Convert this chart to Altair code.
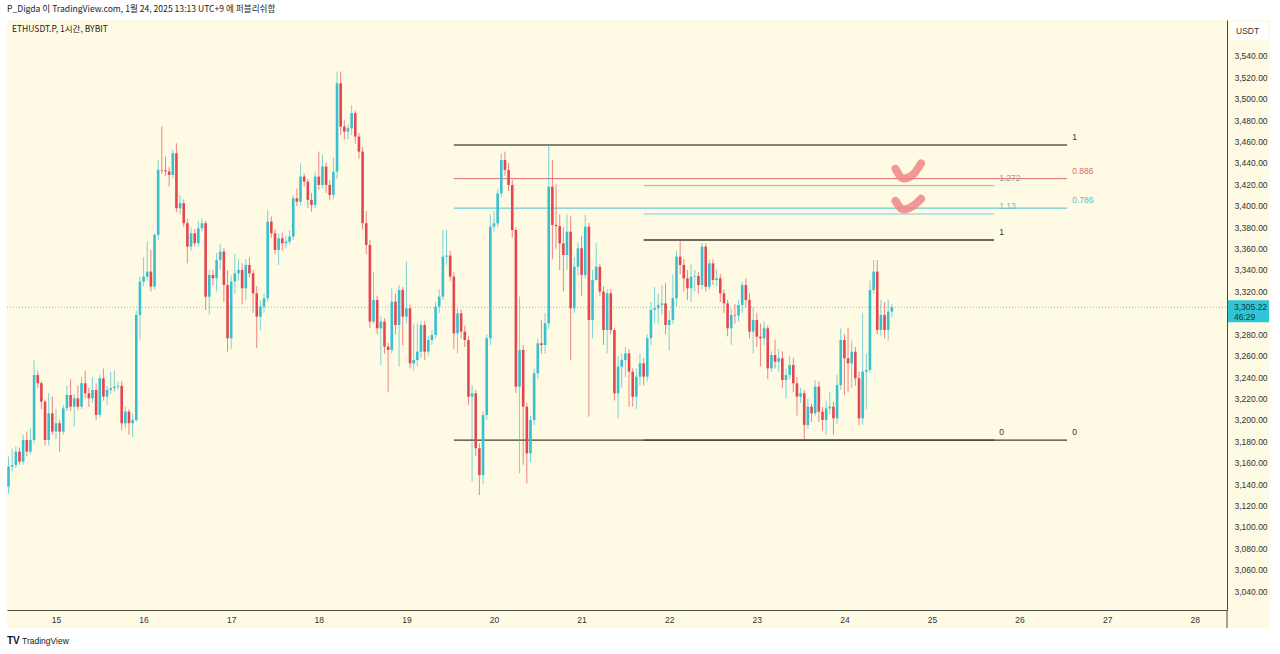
import altair as alt
import pandas as pd

# ---------------- data ----------------
FIRST_HOUR = -13          # first candle: 2025-01-14 11:00 (hours from 01-15 00:00, UTC+9)
FIRST_OPEN = 3137.6
CLOSE = [
    3156.3, 3157.8, 3170.3, 3160.9, 3181.2, 3170.3, 3181.2, 3241.9, 3234.2, 3217.0,
    3181.2, 3206.1, 3189.0, 3196.8, 3189.0, 3210.8, 3223.2, 3212.3, 3220.1, 3212.3,
    3234.2, 3224.8, 3220.1, 3227.9, 3204.6, 3238.8, 3221.7, 3227.9, 3229.5, 3231.0,
    3231.7, 3196.8, 3207.7, 3196.8, 3199.9, 3298.0, 3329.2, 3333.8, 3338.5, 3324.5,
    3372.8, 3433.5, 3433.0, 3432.0, 3428.8, 3449.1, 3397.7, 3402.4, 3383.7, 3361.9,
    3374.3, 3365.0, 3379.0, 3383.7, 3315.1, 3335.4, 3332.3, 3349.4, 3357.2, 3326.0,
    3276.2, 3329.2, 3336.9, 3340.1, 3322.9, 3344.7, 3336.9, 3318.2, 3296.4, 3305.8,
    3313.6, 3385.2, 3374.3, 3358.7, 3369.6, 3365.0, 3366.5, 3371.2, 3407.0, 3403.9,
    3427.3, 3422.6, 3405.5, 3400.8, 3427.3, 3419.5, 3436.6, 3419.5, 3410.1, 3431.9,
    3514.5, 3474.0, 3469.3, 3472.4, 3486.5, 3464.7, 3450.6, 3383.7, 3363.4, 3291.8,
    3312.0, 3285.5, 3291.8, 3268.4, 3265.3, 3310.4, 3288.6, 3321.4, 3296.4, 3304.2,
    3252.8, 3255.9, 3263.7, 3288.6, 3263.7, 3274.6, 3279.3, 3305.7, 3315.1, 3352.5,
    3353.5, 3333.8, 3280.8, 3299.5, 3282.4, 3274.6, 3221.6, 3224.8, 3173.4, 3148.4,
    3204.5, 3276.2, 3380.5, 3383.6, 3411.6, 3442.8, 3433.5, 3419.4, 3377.4, 3231.0,
    3265.3, 3212.3, 3168.7, 3199.8, 3243.4, 3271.5, 3269.9, 3290.2, 3417.9, 3382.1,
    3381.0, 3364.9, 3354.0, 3375.8, 3304.2, 3343.1, 3360.3, 3335.3, 3380.5, 3293.3,
    3330.7, 3343.1, 3319.8, 3283.9, 3318.2, 3283.9, 3224.8, 3249.7, 3255.9, 3262.1,
    3245.0, 3221.6, 3240.3, 3252.8, 3240.3, 3276.2, 3302.6, 3304.2, 3307.3, 3308.8,
    3288.6, 3293.3, 3313.5, 3352.5, 3344.7, 3332.2, 3322.9, 3333.8, 3334.3, 3326.0,
    3361.8, 3324.4, 3346.2, 3330.7, 3332.2, 3318.2, 3308.8, 3285.5, 3298.0, 3297.5,
    3307.3, 3326.0, 3312.0, 3282.4, 3293.3, 3277.7, 3276.2, 3285.5, 3248.1, 3260.6,
    3254.3, 3257.5, 3237.2, 3241.9, 3251.2, 3234.1, 3221.6, 3224.8, 3195.2, 3212.3,
    3206.1, 3231.0, 3207.6, 3199.8, 3210.7, 3212.3, 3201.4, 3232.5, 3274.6, 3257.5,
    3252.8, 3263.7, 3238.8, 3201.4, 3245.0, 3246.6, 3321.3, 3338.5, 3284.0, 3298.0,
    3283.9, 3301.1, 3305.22,
]
HIGH = [
    3165.6, 3173.4, 3175, 3174, 3186, 3189, 3192, 3256.0, 3246, 3236,
    3219, 3225, 3222, 3210, 3200, 3214, 3232, 3238, 3224, 3232,
    3240, 3246, 3230, 3240, 3234, 3242, 3248, 3232, 3245, 3246,
    3236, 3236, 3212, 3210, 3206, 3302, 3334, 3352, 3366.5, 3358.7,
    3374.3, 3442.8, 3474.0, 3446.0, 3436, 3452.2, 3458.4, 3410, 3406, 3388,
    3380, 3378, 3386, 3388, 3386, 3340, 3340, 3356, 3364, 3360,
    3340, 3335, 3355, 3350, 3346, 3350, 3352, 3340, 3325, 3312,
    3318, 3396.1, 3390, 3378, 3374, 3375, 3372, 3377, 3410, 3416,
    3439.7, 3430, 3425, 3412, 3432, 3450.6, 3447.5, 3440, 3424, 3445,
    3525.4, 3525.4, 3480, 3476, 3494, 3489, 3468, 3455, 3395, 3368,
    3338.5, 3316, 3297, 3295, 3272, 3322.9, 3318, 3326, 3324, 3347.8,
    3308, 3290, 3290, 3292, 3292, 3278, 3284, 3310, 3322, 3377.4,
    3377.4, 3358, 3338, 3304, 3303, 3288, 3278, 3232, 3228, 3178,
    3208, 3280, 3392, 3395, 3416, 3449.0, 3450.6, 3440, 3424, 3380,
    3315.1, 3270, 3216, 3204, 3248, 3276, 3293, 3300, 3456.8, 3443,
    3420, 3392, 3380, 3392, 3390, 3352, 3366, 3372, 3391.4, 3384,
    3340, 3365, 3346, 3325, 3322, 3322, 3286, 3260, 3262, 3268,
    3266, 3248, 3248, 3262, 3258, 3280, 3310, 3324, 3318, 3326,
    3328, 3302, 3336, 3358, 3368.0, 3350, 3340, 3345, 3340, 3338,
    3365, 3365, 3350, 3350, 3340, 3336, 3322, 3312, 3304, 3308,
    3312, 3329.1, 3332, 3318, 3305, 3300, 3290, 3292, 3288, 3264,
    3275, 3266, 3264, 3248, 3260, 3258, 3240, 3230, 3228, 3220,
    3215, 3237, 3236, 3212, 3218, 3226, 3217, 3242, 3285.5, 3280,
    3286, 3274, 3268, 3245, 3300, 3262, 3330, 3349.3, 3349.3, 3312,
    3310, 3312, 3308,
]
LOW = [
    3131.3, 3152, 3155, 3158, 3158, 3166, 3168, 3178, 3230, 3210,
    3176, 3176, 3186, 3182, 3170.3, 3186, 3208, 3208, 3193.7, 3209,
    3210, 3220, 3212, 3216, 3200, 3202, 3218, 3214, 3224, 3226,
    3228, 3190, 3192, 3186, 3184, 3198, 3275, 3325, 3330, 3320,
    3322, 3368, 3430, 3428, 3418, 3426, 3394, 3392, 3380, 3346.3,
    3358, 3362, 3362, 3376, 3302.7, 3298, 3326, 3320, 3340, 3310,
    3263.7, 3266, 3318, 3330, 3308, 3312, 3333, 3300, 3266.8, 3284,
    3300, 3310, 3370, 3355, 3344.7, 3358, 3360, 3364, 3368, 3400,
    3400, 3418, 3398, 3394.6, 3398, 3415, 3416, 3412, 3405, 3406,
    3425, 3466, 3462, 3462, 3466, 3458, 3444, 3378, 3355, 3286,
    3290, 3280, 3251.3, 3262, 3226.3, 3262, 3280, 3250, 3270, 3290,
    3248, 3246, 3250, 3258, 3256, 3260, 3270, 3276, 3300, 3312,
    3345, 3330, 3266, 3262, 3276, 3268, 3214, 3142.2, 3166, 3129.7,
    3140, 3200, 3270, 3376, 3380, 3408, 3428, 3414, 3370, 3225,
    3150, 3158, 3140.6, 3160, 3195, 3238, 3262, 3262, 3285, 3350,
    3360, 3340, 3320, 3340, 3255.9, 3300, 3335, 3316, 3332, 3203,
    3276, 3330, 3316, 3270, 3262, 3280, 3218, 3201.4, 3230, 3240,
    3212, 3212.3, 3210, 3232, 3232, 3236, 3270, 3290, 3290, 3298,
    3280, 3265, 3290, 3306, 3336, 3320, 3312, 3310, 3320, 3318,
    3322, 3320, 3322, 3326, 3325, 3310, 3300, 3278, 3270, 3290,
    3292, 3300, 3305, 3276, 3262, 3268, 3250, 3270, 3238, 3245,
    3248, 3245, 3230, 3220, 3238, 3226, 3204, 3216, 3181.1, 3192,
    3198, 3204, 3198, 3190, 3186, 3205, 3186, 3196, 3228, 3223,
    3226, 3230, 3232, 3195, 3195, 3210, 3244, 3318, 3280, 3278,
    3276, 3274, 3296,
]

LAST_PRICE = 3305.22
COUNTDOWN = "46:29"
DAY_LABELS = list(range(15, 29))
# 3,300.00 is hidden behind the last-price box in the reference
PRICE_TICKS = [3040, 3060, 3080, 3100, 3120, 3140, 3160, 3180, 3200, 3220, 3240, 3260,
               3280, 3320, 3340, 3360, 3380, 3400, 3420, 3440, 3460, 3480, 3500,
               3520, 3540]

# Fibonacci tools: anchors (price), span (hours), levels, label position (hours)
FIB_A_LOW, FIB_A_HIGH = 3181.1, 3456.8
FIB_A_START, FIB_A_END, FIB_A_LABEL = 109, 277, 278.4
FIB_A_LEVELS = [1, 0.886, 0.786, 0]
FIB_A_LABELS = ["1", "0.886", "0.786", "0"]
FIB_A_COLORS = ["#5c5c52", "#e06a70", "#4fc1d3", "#3e3e36"]
FIB_A_TEXT = ["#333333", "#e06a70", "#4fc1d3", "#333333"]
FIB_A_WIDTH = [1.3, 1, 1, 1.3]

FIB_B_LOW, FIB_B_HIGH = 3181.1, 3368.0
FIB_B_START, FIB_B_END, FIB_B_LABEL = 161, 257, 258.4
FIB_B_LEVELS = [1.272, 1.13, 1, 0]
FIB_B_LABELS = ["1.272", "1.13", "1", "0"]
FIB_B_COLORS = ["#a9b3a2", "#7cc9d8", "#6a6a5e", "#3e3e36"]
FIB_B_TEXT = ["#9a9a9a", "#63c0d2", "#333333", "#333333"]
FIB_B_WIDTH = [1, 1, 2, 1.3]

# hand-drawn check marks (hours, price)
CHECK_ID = [1, 1, 1, 1, 2, 2, 2, 2]
CHECK_T = [230.0, 232.2, 234.6, 237.0, 230.0, 232.2, 234.6, 237.0]
CHECK_P = [3434.5, 3425.5, 3428.5, 3439.5, 3404.5, 3396.5, 3399.5, 3406.5]

TEAL = "#38bfd0"
RED = "#e4464f"
BG = "#fefae3"

# ---------------- tables ----------------
n = len(CLOSE)
opens = [FIRST_OPEN] + CLOSE[:-1]
candles = pd.DataFrame({
    "t": [FIRST_HOUR + i for i in range(n)],
    "open": opens, "close": CLOSE, "high": HIGH, "low": LOW,
})
candles["dir"] = ["up" if c >= o else "down" for o, c in zip(opens, CLOSE)]

fib_rows = []
for lv, lab, col, tcol, w in zip(FIB_A_LEVELS, FIB_A_LABELS, FIB_A_COLORS, FIB_A_TEXT, FIB_A_WIDTH):
    fib_rows.append(dict(t1=FIB_A_START, t2=FIB_A_END, tl=FIB_A_LABEL,
                         price=FIB_A_LOW + lv * (FIB_A_HIGH - FIB_A_LOW),
                         label=lab, color=col, tcolor=tcol, w=w))
for lv, lab, col, tcol, w in zip(FIB_B_LEVELS, FIB_B_LABELS, FIB_B_COLORS, FIB_B_TEXT, FIB_B_WIDTH):
    fib_rows.append(dict(t1=FIB_B_START, t2=FIB_B_END, tl=FIB_B_LABEL,
                         price=FIB_B_LOW + lv * (FIB_B_HIGH - FIB_B_LOW),
                         label=lab, color=col, tcolor=tcol, w=w))
fibs = pd.DataFrame(fib_rows)

checks = pd.DataFrame({"id": CHECK_ID, "t": CHECK_T, "price": CHECK_P,
                       "k": list(range(len(CHECK_T)))})
one = pd.DataFrame({"price": [LAST_PRICE]})

# ---------------- scales / axes ----------------
xscale = alt.Scale(domain=[-13.42, 320.82], nice=False, zero=False)
yscale = alt.Scale(domain=[3022.3, 3573.6], nice=False, zero=False)
xaxis = alt.Axis(values=[(d - 15) * 24 for d in DAY_LABELS], labelExpr="datum.value/24 + 15",
                 title=None, ticks=False, grid=False, domainColor="#4b4b40", labelColor="#333333",
                 labelFontSize=8.5, labelPadding=5, labelFont="Liberation Sans", zindex=1)
yaxis = alt.Axis(values=PRICE_TICKS, format=",.2f", orient="right", title=None, ticks=False,
                 grid=False, domainColor="#4b4b40", labelColor="#333333", labelFontSize=8.5,
                 labelPadding=7, labelFont="Liberation Sans", zindex=1)

X = lambda f: alt.X(f, type="quantitative", scale=xscale, axis=xaxis)
Y = lambda f: alt.Y(f, type="quantitative", scale=yscale, axis=yaxis)
color = alt.Color("dir:N", scale=alt.Scale(domain=["up", "down"], range=[TEAL, RED]), legend=None)

bg = alt.Chart(one).mark_rect(color=BG).encode(
    x=alt.value(0), x2=alt.value(1263), y=alt.value(0), y2=alt.value(608))
sep = alt.Chart(one).mark_rule(color="#4b4b40", strokeWidth=1).encode(
    x=alt.value(1220), y=alt.value(590), y2=alt.value(608))

price_line = alt.Chart(one).mark_rule(color="#6fcfdd", strokeDash=[1, 2], strokeWidth=1).encode(
    x=alt.value(0), x2=alt.value(1220), y=Y("price"))

fib_lines = alt.Chart(fibs).mark_rule().encode(
    x=X("t1"), x2="t2", y=Y("price"),
    color=alt.Color("color:N", scale=None), strokeWidth=alt.StrokeWidth("w:Q", scale=None))
fib_text = alt.Chart(fibs).mark_text(align="left", baseline="middle", dy=-8, fontSize=8.5,
                                     font="Liberation Sans").encode(
    x=X("tl"), y=Y("price"), text="label:N", color=alt.Color("tcolor:N", scale=None))

wicks = alt.Chart(candles).mark_rule(strokeWidth=1, opacity=0.65).encode(
    x=X("t"), y=Y("low"), y2="high", color=color)
bodies = alt.Chart(candles).mark_rule(strokeWidth=2.6, strokeCap="butt").encode(
    x=X("t"), y=Y("open"), y2="close", color=color)

check_lines = alt.Chart(checks).mark_line(strokeWidth=8, strokeCap="round", strokeJoin="round",
                                          interpolate="monotone", color="#f08585",
                                          opacity=0.85).encode(
    x=X("t"), y=Y("price"), detail="id:N", order="k:Q")

price_box = alt.Chart(one).mark_rule(color="#2fc4d6", strokeWidth=22, yOffset=4).encode(
    x=alt.value(1221), x2=alt.value(1262), y=Y("price"))
price_txt = alt.Chart(one).mark_text(align="left", baseline="middle", fontSize=8.5,
                                     color="#16383e", font="Liberation Sans").encode(
    x=alt.value(1227), y=Y("price"), text=alt.Text("price:Q", format=",.2f"))
count_txt = alt.Chart(one).mark_text(align="left", baseline="middle", fontSize=8.5, yOffset=10,
                                     color="#16383e", font="Liberation Sans").encode(
    x=alt.value(1227), y=Y("price"), text=alt.value(COUNTDOWN))

usdt_box = alt.Chart(one).mark_rect(color="#ffffff", cornerRadius=3).encode(
    x=alt.value(1223), x2=alt.value(1261), y=alt.value(2), y2=alt.value(20))
usdt_txt = alt.Chart(one).mark_text(align="left", baseline="middle", fontSize=8.5,
                                    color="#333333", font="Liberation Sans").encode(
    x=alt.value(1229), y=alt.value(11), text=alt.value("USDT"))

header = alt.Chart(one).mark_text(align="left", baseline="middle", fontSize=8.6,
                                  color="#222222", font="Noto Sans CJK KR").encode(
    x=alt.value(0), y=alt.value(-11),
    text=alt.value("P_Digda 이 TradingView.com, 1월 24, 2025 13:13 UTC+9 에 퍼블리쉬함"))
symbol = alt.Chart(one).mark_text(align="left", baseline="middle", fontSize=8.5,
                                  color="#222222", font="Noto Sans CJK KR").encode(
    x=alt.value(5), y=alt.value(9), text=alt.value("ETHUSDT.P, 1시간, BYBIT"))
logo = alt.Chart(one).mark_text(align="left", baseline="middle", fontSize=10, fontWeight="bold",
                                color="#131722", font="Liberation Sans").encode(
    x=alt.value(0), y=alt.value(621), text=alt.value("TV"))
footer = alt.Chart(one).mark_text(align="left", baseline="middle", fontSize=8.5,
                                  color="#131722", font="Liberation Sans").encode(
    x=alt.value(15), y=alt.value(621), text=alt.value("TradingView"))

chart = alt.layer(
    bg, sep, price_line, fib_lines, fib_text, wicks, bodies, check_lines,
    price_box, price_txt, count_txt, usdt_box, usdt_txt, header, symbol, logo, footer,
).properties(
    width=1220, height=590,
    padding={"left": 7, "top": 20, "right": 53, "bottom": 44},
    autosize=alt.AutoSizeParams(type="none"),
    background="#ffffff",
).configure_view(stroke=None)

chart.save("out.html", embed_options={"renderer": "svg", "actions": False})
